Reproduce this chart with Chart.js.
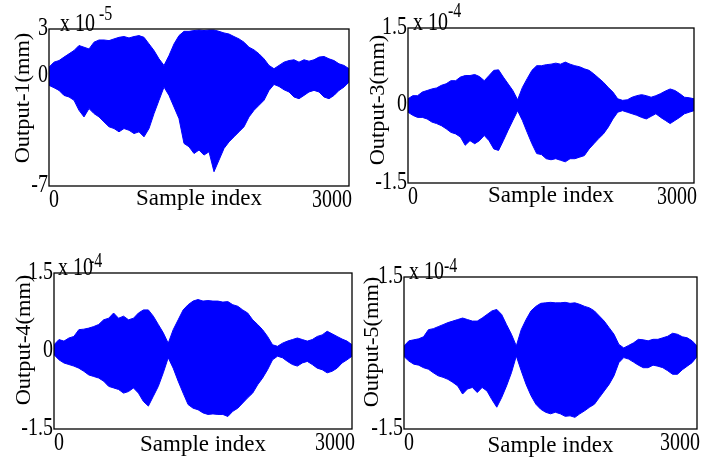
<!DOCTYPE html>
<html>
<head>
<meta charset="utf-8">
<script src="https://cdn.jsdelivr.net/npm/chart.js@4.4.1/dist/chart.umd.min.js"></script>
<style>
  html, body { margin: 0; padding: 0; background: #fff; }
  #wrap { position: relative; width: 710px; height: 463px; overflow: hidden; }
  canvas { position: absolute; }
</style>
</head>
<body>
<div id="wrap">
  <canvas id="c1" width="355" height="230" style="left:0;top:0"></canvas>
  <canvas id="c3" width="355" height="230" style="left:355px;top:0"></canvas>
  <canvas id="c4" width="355" height="223" style="left:0;top:240px"></canvas>
  <canvas id="c5" width="355" height="223" style="left:355px;top:240px"></canvas>
</div>
<script>
// サンプル番号（50おき）
const sampleIdx = [0,50,100,150,200,250,300,350,400,450,500,550,600,650,700,750,800,850,900,950,
  1000,1050,1100,1150,1200,1250,1300,1350,1400,1450,1500,1550,1600,1650,1700,1750,1800,1850,1900,1950,
  2000,2050,2100,2150,2200,2250,2300,2350,2400,2450,2500,2550,2600,2650,2700,2750,2800,2850,2900,2950,3000];
const xTicks = [0, 3000];
const xTickLabels = ['0', '3000'];

// Output-1 の包絡線（×10^-5 mm）
const out1Upper = [0.57,0.89,0.99,1.21,1.42,1.63,1.95,1.84,1.73,2.16,2.30,2.30,2.26,2.37,2.47,2.52,2.43,2.52,2.58,2.47,
  2.05,1.63,1.10,0.68,1.31,2.05,2.58,2.85,2.85,2.90,2.94,2.90,2.94,2.94,2.85,2.75,2.68,2.52,2.37,2.16,
  1.84,1.67,1.42,1.10,0.68,0.47,0.68,0.89,0.99,1.04,0.89,1.04,0.95,1.04,1.21,1.25,1.10,0.99,0.78,0.68,0.47];
const out1Lower = [-0.59,-0.74,-0.91,-1.23,-1.33,-1.54,-2.18,-2.60,-2.07,-2.39,-2.60,-2.92,-3.23,-3.34,-3.55,-3.34,-3.45,-3.66,-3.55,-3.87,
  -3.34,-2.39,-1.54,-0.70,-1.23,-1.97,-2.71,-4.29,-4.50,-4.93,-4.71,-5.03,-4.82,-6.09,-5.35,-4.61,-4.19,-3.87,-3.55,-3.23,
  -2.60,-2.18,-1.86,-1.54,-0.91,-0.53,-0.66,-0.87,-1.01,-1.33,-1.44,-1.23,-1.01,-0.91,-1.01,-1.33,-1.44,-1.23,-0.91,-0.70,-0.38];

// Output-3 の包絡線（×10^-4 mm）
const out3Upper = [0.13,0.19,0.19,0.26,0.29,0.32,0.34,0.39,0.42,0.48,0.48,0.55,0.58,0.58,0.60,0.56,0.48,0.58,0.68,0.69,
  0.55,0.42,0.29,0.11,0.35,0.52,0.68,0.77,0.77,0.79,0.80,0.82,0.80,0.84,0.80,0.77,0.75,0.71,0.68,0.61,
  0.53,0.45,0.35,0.26,0.13,0.10,0.11,0.16,0.19,0.21,0.19,0.16,0.19,0.23,0.28,0.32,0.29,0.23,0.16,0.15,0.13];
const out3Lower = [-0.13,-0.19,-0.23,-0.23,-0.26,-0.32,-0.35,-0.39,-0.45,-0.52,-0.55,-0.61,-0.77,-0.68,-0.74,-0.68,-0.58,-0.68,-0.84,-0.87,
  -0.68,-0.48,-0.29,-0.10,-0.29,-0.52,-0.74,-0.93,-0.95,-1.03,-1.05,-1.03,-1.06,-1.09,-1.03,-1.03,-1.00,-0.97,-0.84,-0.74,
  -0.64,-0.55,-0.42,-0.26,-0.13,-0.10,-0.13,-0.16,-0.19,-0.23,-0.26,-0.21,-0.16,-0.23,-0.29,-0.35,-0.29,-0.23,-0.16,-0.13,-0.10];

// Output-4 の包絡線（×10^-4 mm）
const out4Upper = [0.12,0.22,0.19,0.25,0.28,0.41,0.42,0.44,0.47,0.51,0.60,0.63,0.73,0.63,0.67,0.60,0.63,0.73,0.79,0.79,
  0.67,0.51,0.35,0.15,0.41,0.60,0.79,0.89,0.96,0.99,0.96,0.97,0.96,0.96,0.94,0.95,0.89,0.86,0.79,0.73,
  0.60,0.51,0.41,0.28,0.12,0.09,0.15,0.19,0.22,0.25,0.22,0.19,0.22,0.28,0.31,0.38,0.33,0.28,0.23,0.19,0.12];
const out4Lower = [-0.07,-0.17,-0.23,-0.26,-0.29,-0.33,-0.39,-0.46,-0.49,-0.52,-0.58,-0.68,-0.71,-0.74,-0.81,-0.78,-0.71,-0.81,-0.97,-1.06,
  -0.87,-0.68,-0.42,-0.13,-0.33,-0.58,-0.81,-1.03,-1.10,-1.13,-1.19,-1.22,-1.21,-1.22,-1.22,-1.26,-1.16,-1.10,-1.00,-0.90,
  -0.81,-0.65,-0.52,-0.36,-0.17,-0.10,-0.13,-0.20,-0.26,-0.29,-0.23,-0.20,-0.26,-0.33,-0.36,-0.42,-0.39,-0.33,-0.23,-0.17,-0.10];

// Output-5 の包絡線（×10^-4 mm）
const out5Upper = [0.14,0.24,0.26,0.28,0.32,0.46,0.48,0.52,0.56,0.60,0.63,0.66,0.69,0.66,0.63,0.63,0.69,0.76,0.83,0.86,
  0.76,0.56,0.37,0.14,0.46,0.66,0.83,0.92,0.98,0.99,1.00,0.99,0.99,1.00,0.98,0.99,0.96,0.92,0.89,0.83,
  0.73,0.63,0.50,0.37,0.17,0.10,0.15,0.20,0.27,0.26,0.24,0.27,0.27,0.30,0.33,0.39,0.37,0.32,0.30,0.24,0.14];
const out5Lower = [-0.07,-0.16,-0.22,-0.24,-0.29,-0.32,-0.39,-0.45,-0.48,-0.52,-0.58,-0.65,-0.81,-0.71,-0.68,-0.78,-0.68,-0.75,-0.92,-1.07,
  -0.88,-0.65,-0.39,-0.06,-0.35,-0.62,-0.84,-1.01,-1.11,-1.17,-1.20,-1.17,-1.20,-1.25,-1.24,-1.27,-1.20,-1.14,-1.07,-1.01,
  -0.88,-0.75,-0.62,-0.45,-0.19,-0.09,-0.12,-0.18,-0.24,-0.29,-0.29,-0.24,-0.26,-0.29,-0.35,-0.42,-0.42,-0.33,-0.26,-0.19,-0.07];

// 縦軸目盛り
const yTicks1 = [-7, 0, 3];
const yTickLabels1 = ['-7', '0', '3'];
const yTicks345 = [-1.5, 0, 1.5];
const yTickLabels345 = ['-1.5', '0', '1.5'];
const yTickLabels5 = ['-1.5', '', '1.5'];   // 元図では Output-5 の 0 が見えない

const BLUE = '#0000ff';
const SERIF = '"Liberation Serif", "DejaVu Serif", serif';
const STRETCH = 1.3;   // 元図の文字は縦長なので縦方向に伸ばす

// 縦に伸ばした文字を描く
function stretchedText(ctx, str, x, y, sy) {
    ctx.save();
    ctx.translate(x, y);
    ctx.scale(1, sy);
    ctx.fillText(str, 0, 0);
    ctx.restore();
}

// 枠線・目盛り・軸タイトル・指数表記を描くプラグイン
const framePlugin = {
    id: 'frame',
    afterDraw(chart, args, opts) {
        const { ctx, chartArea: a, scales } = chart;
        ctx.save();
        ctx.strokeStyle = '#000';
        ctx.lineWidth = 1.3;
        ctx.strokeRect(a.left, a.top, a.right - a.left, a.bottom - a.top);
        ctx.fillStyle = '#000';

        // 縦軸の目盛り
        ctx.font = `20px ${SERIF}`;
        ctx.textAlign = 'right';
        ctx.textBaseline = 'middle';
        opts.yTicks.forEach((v, i) => {
            stretchedText(ctx, opts.yTickLabels[i], a.left - 1, scales.y.getPixelForValue(v) - 1, STRETCH);
        });

        // 横軸の目盛り
        ctx.textBaseline = 'top';
        xTicks.forEach((v, i) => {
            const last = i === xTicks.length - 1;
            ctx.textAlign = last ? 'right' : 'left';
            stretchedText(ctx, xTickLabels[i], scales.x.getPixelForValue(v) + (last ? 3 : 0), a.bottom + 1, STRETCH);
        });

        // 指数 "x 10^-n"
        ctx.textAlign = 'left';
        ctx.textBaseline = 'alphabetic';
        stretchedText(ctx, 'x 10', a.left + opts.expDx, a.top + 2, STRETCH);
        ctx.font = `16px ${SERIF}`;
        stretchedText(ctx, opts.expPow, opts.powX, opts.powY, STRETCH);

        // 横軸タイトル
        ctx.font = `23px ${SERIF}`;
        ctx.textAlign = 'center';
        ctx.fillText('Sample index', (a.left + a.right) / 2, a.bottom + opts.xTitleDy);

        // 縦軸タイトル
        ctx.translate(opts.yTitleX, opts.yTitleY);
        ctx.rotate(-Math.PI / 2);
        ctx.scale(1.12, 1);
        ctx.font = `20px ${SERIF}`;
        ctx.textBaseline = 'middle';
        ctx.fillText(opts.yTitle, 0, 0);
        ctx.restore();
    }
};

function toPoints(values) {
    return sampleIdx.map((x, i) => ({ x: x, y: values[i] }));
}

function createPanel(canvasId, upper, lower, yTicks, yTickLabels, box, text) {
    const canvas = document.getElementById(canvasId);
    const W = canvas.width, H = canvas.height;

    return new Chart(canvas, {
        type: 'line',
        data: {
            datasets: [
                { data: toPoints(upper), borderColor: BLUE, backgroundColor: BLUE, borderWidth: 1, pointRadius: 0, fill: '+1', tension: 0 },
                { data: toPoints(lower), borderColor: BLUE, backgroundColor: BLUE, borderWidth: 1, pointRadius: 0, fill: false, tension: 0 }
            ]
        },
        options: {
            responsive: false,
            animation: false,
            layout: { padding: { left: 0, top: box.top, right: W - box.right, bottom: 0 } },
            plugins: {
                legend: { display: false },
                tooltip: { enabled: false },
                frame: Object.assign({ yTicks: yTicks, yTickLabels: yTickLabels }, text)
            },
            scales: {
                x: {
                    type: 'linear',
                    min: 0,
                    max: 3000,
                    grid: { display: false, drawTicks: false },
                    border: { display: false },
                    ticks: { display: false },
                    afterFit: s => { s.height = H - box.bottom; s.paddingLeft = 0; s.paddingRight = 0; }
                },
                y: {
                    type: 'linear',
                    min: yTicks[0],
                    max: yTicks[yTicks.length - 1],
                    grid: { display: false, drawTicks: false },
                    border: { display: false },
                    ticks: { display: false },
                    afterFit: s => { s.width = box.left; s.paddingTop = 0; s.paddingBottom = 0; }
                }
            }
        },
        plugins: [framePlugin]
    });
}

createPanel('c1', out1Upper, out1Lower, yTicks1, yTickLabels1,
    { left: 49, top: 29, right: 349, bottom: 186 },
    { yTitle: 'Output-1(mm)', yTitleX: 24, yTitleY: 98, xTitleDy: 19, expDx: 11, expPow: '-5', powX: 99, powY: 20 });

createPanel('c3', out3Upper, out3Lower, yTicks345, yTickLabels345,
    { left: 53, top: 28, right: 339, bottom: 183 },
    { yTitle: 'Output-3(mm)', yTitleX: 24, yTitleY: 100, xTitleDy: 19, expDx: 5, expPow: '-4', powX: 93, powY: 17 });

createPanel('c4', out4Upper, out4Lower, yTicks345, yTickLabels345,
    { left: 54, top: 33, right: 352, bottom: 189 },
    { yTitle: 'Output-4(mm)', yTitleX: 25, yTitleY: 100, xTitleDy: 22, expDx: 4, expPow: '-4', powX: 89, powY: 27 });

createPanel('c5', out5Upper, out5Lower, yTicks345, yTickLabels5,
    { left: 49, top: 37, right: 342, bottom: 189 },
    { yTitle: 'Output-5(mm)', yTitleX: 18, yTitleY: 102, xTitleDy: 23, expDx: 5, expPow: '-4', powX: 89, powY: 32 });
</script>
</body>
</html>
